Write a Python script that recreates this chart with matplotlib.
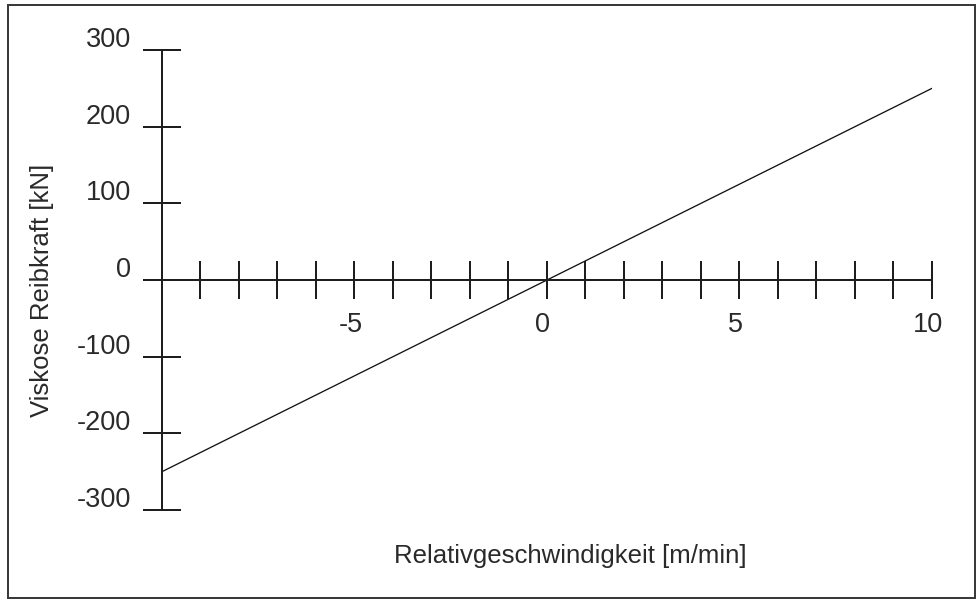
import matplotlib
matplotlib.use('Agg')
import matplotlib.pyplot as plt
from matplotlib.patches import Rectangle
from matplotlib.transforms import ScaledTranslation

# Viscous friction force vs. relative velocity (linear, 25 kN per m/min)
VELOCITY = [-10, 10]
FRICTION = [-250, 250]

X_TICKS = list(range(-10, 11))
X_LABELED = [-5, 0, 5, 10]
Y_TICKS = [-300, -200, -100, 0, 100, 200, 300]

W, H = 978, 601
PT = 0.72  # points per pixel at 100 dpi
AXIS_COLOR = '#1e1e1e'

plt.rcParams['font.family'] = ['Liberation Sans', 'DejaVu Sans']
plt.rcParams['axes.unicode_minus'] = False


def main():
    fig = plt.figure(figsize=(W / 100, H / 100), dpi=100)
    ax = fig.add_axes([162 / W, 91 / H, 770 / W, 460 / H])
    ax.patch.set_visible(False)
    ax.set_xlim(-10, 10)
    ax.set_ylim(-300, 300)

    # Cross-shaped axes: y axis on the left, x axis through zero
    for side in ('top', 'right'):
        ax.spines[side].set_visible(False)
    ax.spines['bottom'].set_position(('data', 0))
    for side in ('left', 'bottom'):
        ax.spines[side].set_linewidth(2 * PT)
        ax.spines[side].set_color(AXIS_COLOR)

    ax.plot(VELOCITY, FRICTION, color='#111111', lw=1.3 * PT)

    ax.set_xticks(X_TICKS)
    ax.set_xticklabels([str(t) if t in X_LABELED else '' for t in X_TICKS])
    ax.set_yticks(Y_TICKS)
    ax.set_yticklabels([str(t) for t in Y_TICKS])
    ax.tick_params(axis='both', direction='inout', length=38 * PT,
                   width=2 * PT, color=AXIS_COLOR, labelsize=19.5,
                   labelcolor='#2a2a2a')
    ax.tick_params(axis='x', pad=13 * PT)
    ax.tick_params(axis='y', pad=12 * PT)

    # Nudge tick labels the way the original layout sits them
    for lab in ax.get_yticklabels():
        lab.set_transform(lab.get_transform() +
                          ScaledTranslation(0, 13 / 100, fig.dpi_scale_trans))
    for lab in ax.get_xticklabels():
        lab.set_transform(lab.get_transform() +
                          ScaledTranslation(-4 / 100, 0, fig.dpi_scale_trans))

    ax.set_xlabel('Relativgeschwindigkeit [m/min]', fontsize=18.5,
                  color='#2a2a2a', va='center')
    ax.xaxis.set_label_coords((570 - 162) / 770, (510 - 556) / 460)
    ax.set_ylabel('Viskose Reibkraft [kN]', fontsize=18.5,
                  color='#2a2a2a', va='center')
    ax.yaxis.set_label_coords((42 - 162) / 770, (510 - 290) / 460)

    # Outer frame around the whole picture
    fig.add_artist(Rectangle((8 / W, (H - 598) / H), (975 - 8) / W,
                             (598 - 5) / H, transform=fig.transFigure,
                             fill=False, lw=2 * PT, ec='#3a3a3a'))

    fig.savefig('out.png', dpi=100)


if __name__ == '__main__':
    main()
